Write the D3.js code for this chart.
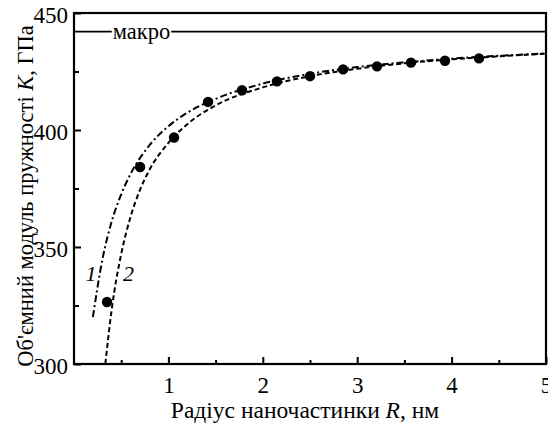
<!DOCTYPE html>
<html>
<head>
<meta charset="utf-8">
<script src="https://cdn.jsdelivr.net/npm/d3@7/dist/d3.min.js"></script>
<style>
  html, body { margin: 0; padding: 0; background: #fff; }
  svg { display: block; }
  text { font-family: "Liberation Serif", "Times New Roman", serif; fill: #000; }
</style>
</head>
<body>
<svg id="chart" width="548" height="423"></svg>
<script>
// ---- data ----
const pointsR = [0.35, 0.70, 1.06, 1.42, 1.78, 2.15, 2.50, 2.85, 3.21, 3.57, 3.93, 4.29];
const pointsK = [326.5, 384.2, 396.8, 412.0, 417.0, 420.8, 423.0, 425.9, 427.2, 428.8, 429.6, 430.6];

const curve1R = [0.20, 0.30, 0.40, 0.50, 0.60, 0.80, 1.00, 1.20, 1.50, 2.00, 2.50, 3.00, 3.50, 4.00, 4.50, 5.00];
const curve1K = [320.0, 344.5, 361.0, 372.5, 381.3, 393.5, 401.6, 407.4, 413.3, 419.8, 424.0, 426.9, 428.9, 430.5, 431.7, 432.7];

const curve2R = [0.332, 0.40, 0.50, 0.60, 0.70, 0.80, 1.00, 1.20, 1.50, 2.00, 2.50, 3.00, 3.50, 4.00, 4.50, 5.00];
const curve2K = [300.0, 323.5, 347.0, 363.0, 374.5, 383.0, 394.5, 402.5, 410.5, 418.2, 423.0, 426.2, 428.5, 430.2, 431.5, 432.6];

const macroK = 442;
const xTicks = [1, 2, 3, 4, 5];
const xMinorTicks = [0.5, 1.5, 2.5, 3.5, 4.5];
const yTicks = [300, 350, 400, 450];
const yMinorTicks = [325, 375, 425];

const svg = d3.select("#chart");
const L = 74, R = 546, T = 13, B = 364;
const x = d3.scaleLinear().domain([0, 5]).range([L, R]);
const y = d3.scaleLinear().domain([300, 450]).range([B, T]);

svg.append("clipPath").attr("id", "clip").append("rect")
  .attr("x", L).attr("y", T).attr("width", R - L).attr("height", B - T);

// ticks (inward)
const gx = svg.append("g").attr("transform", `translate(0,${B})`)
  .call(d3.axisBottom(x).tickValues(xTicks).tickSize(-7).tickPadding(13).tickFormat(d3.format("d")));
const gxm = svg.append("g").attr("transform", `translate(0,${B})`)
  .call(d3.axisBottom(x).tickValues(xMinorTicks).tickSize(-4).tickFormat(""));
const gy = svg.append("g").attr("transform", `translate(${L},0)`)
  .call(d3.axisLeft(y).tickValues(yTicks).tickSize(-7).tickPadding(6).tickFormat(d3.format("d")));
const gym = svg.append("g").attr("transform", `translate(${L},0)`)
  .call(d3.axisLeft(y).tickValues(yMinorTicks).tickSize(-5).tickFormat(""));
[gx, gxm, gy, gym].forEach(g => {
  g.select(".domain").remove();
  g.selectAll("line").attr("stroke", "#000").attr("stroke-width", 2);
  g.selectAll("text").style("font-size", "23px").attr("font-family", "Liberation Serif");
});
gx.selectAll("text").attr("dy", "0.71em");
gy.selectAll("text").attr("dy", "0.42em");

// frame
svg.append("rect").attr("x", L).attr("y", T).attr("width", R - L).attr("height", B - T)
  .attr("fill", "none").attr("stroke", "#000").attr("stroke-width", 2.2);

// macro line
svg.append("line").attr("x1", x(0)).attr("x2", x(5)).attr("y1", y(macroK)).attr("y2", y(macroK))
  .attr("stroke", "#000").attr("stroke-width", 1.8);
const mg = svg.append("g");
const mbg = mg.append("rect").attr("fill", "#fff");
const mt = mg.append("text").attr("x", 141.5).attr("y", y(macroK)).attr("dy", "0.32em")
  .attr("text-anchor", "middle").style("font-size", "22.5px").text("макро");
const bb = mt.node().getBBox();
mbg.attr("x", bb.x - 1).attr("y", y(macroK) - 4).attr("width", bb.width + 2).attr("height", 8);

// curves
const line = d3.line().x(d => x(d[0])).y(d => y(d[1])).curve(d3.curveMonotoneX);
const plot = svg.append("g").attr("clip-path", "url(#clip)");
plot.append("path").datum(curve1R.map((r, i) => [r, curve1K[i]]))
  .attr("d", line).attr("fill", "none").attr("stroke", "#000").attr("stroke-width", 2)
  .attr("stroke-dasharray", "7,3,2,3");
plot.append("path").datum(curve2R.map((r, i) => [r, curve2K[i]]))
  .attr("d", line).attr("fill", "none").attr("stroke", "#000").attr("stroke-width", 2)
  .attr("stroke-dasharray", "5,3");

// points
svg.append("g").selectAll("circle").data(pointsR.map((r, i) => [r, pointsK[i]])).join("circle")
  .attr("cx", d => x(d[0])).attr("cy", d => y(d[1])).attr("r", 5.2).attr("fill", "#000");

// curve labels
svg.append("text").attr("x", 91).attr("y", 273).attr("dy", "0.35em").attr("text-anchor", "middle")
  .style("font-size", "22px").style("font-style", "italic").text("1");
svg.append("text").attr("x", 128.5).attr("y", 273).attr("dy", "0.35em").attr("text-anchor", "middle")
  .style("font-size", "22px").style("font-style", "italic").text("2");

// axis titles
const xt = svg.append("text").attr("x", 305).attr("y", 418).attr("text-anchor", "middle")
  .style("font-size", "23.5px");
xt.append("tspan").text("Радіус наночастинки ");
xt.append("tspan").style("font-style", "italic").text("R");
xt.append("tspan").text(", нм");

const yt = svg.append("text").attr("transform", `translate(33,196) rotate(-90)`)
  .attr("text-anchor", "middle").style("font-size", "22.5px");
yt.append("tspan").text("Об'ємний модуль пружності ");
yt.append("tspan").style("font-style", "italic").text("K");
yt.append("tspan").text(", ГПа");
</script>
</body>
</html>
